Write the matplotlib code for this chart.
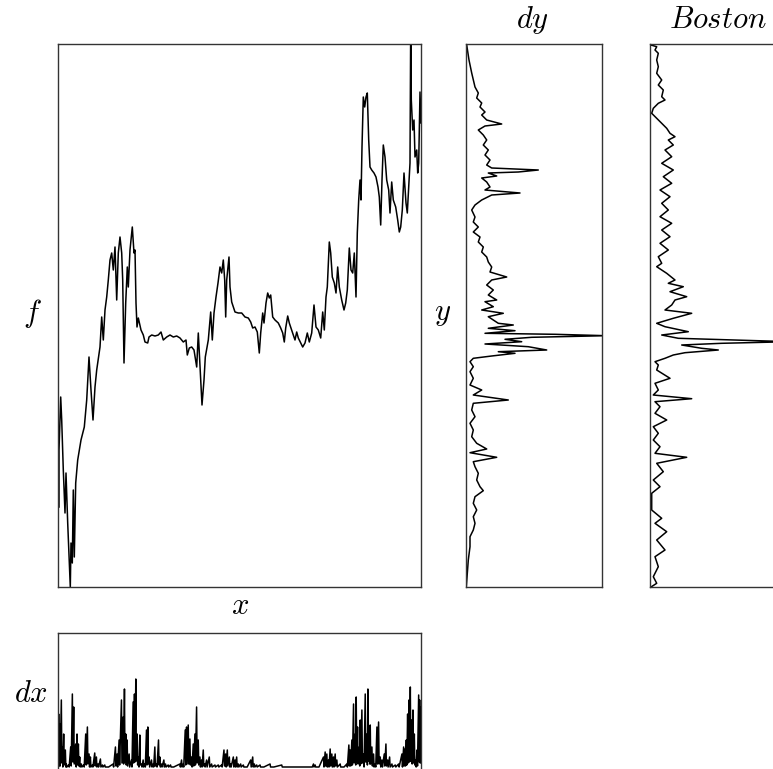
import numpy as np
import matplotlib.pyplot as plt

plt.rcParams['mathtext.fontset'] = 'cm'

# main series f(x)
x = [1, 1, 2.7, 3.7, 5.3, 7, 8, 9.7, 11.7, 12.3, 13, 14.3, 15.3, 16.3, 17.7, 19.7, 23, 26.3, 28.7, 31,
     33, 35, 37, 38.7, 42, 43.7, 45.3, 47, 48.7, 50.3, 52, 53.7, 55.3, 57, 58.7, 60.3, 62, 63.7, 64.7, 66,
     67.7, 69.3, 70.3, 72, 74.3, 76, 77, 78, 79, 80.3, 83, 85.3, 87, 89.7, 91, 93.7, 97, 100.3, 103, 105.3,
     108.7, 112, 115.3, 118.7, 122, 125.3, 128, 129.3, 131.3, 133.7, 136, 138.7, 140.3, 142, 144, 146, 147.3,
     150.3, 152.7, 154.3, 156, 158, 160, 162, 163.7, 165.3, 166.7, 167.7, 168.7, 171, 172, 173.7, 177, 180.3,
     183.7, 187, 190.3, 192.7, 194.7, 197, 199.3, 201.3, 202.7, 204.7, 206, 208, 209.7, 211.3, 212.7, 214.7,
     217, 220.3, 222.7, 224.7, 226.3, 227.7, 229.7, 231.3, 233.7, 235.3, 237, 238.7, 240.3, 242.7, 244.7, 247,
     249.3, 251.3, 253.7, 256, 258, 260.3, 262.7, 264.7, 266.3, 268, 269.3, 271.3, 272.7, 274.3, 276.3, 278,
     279.7, 281.3, 283.7, 286, 287.7, 289.3, 291.3, 293, 294.7, 296.3, 298, 299.3, 300.7, 302, 303, 304, 305.3,
     306.7, 308, 309.3, 310.7, 312, 313.7, 316, 318, 320, 321.3, 322.7, 324, 325.3, 327, 328.7, 330.7, 332,
     333.7, 335.3, 337.7, 339.7, 341.3, 342.7, 344.3, 346, 348, 349.3, 350.7, 352, 352.7, 353.3, 354.7, 356,
     357, 358.7, 359.7, 360.7, 362, 363]
f = [80, 137, 190, 167, 117, 74, 114, 64, 14, 0, 44, 24, 97, 30, 104, 127, 147, 160, 187, 230,
     197, 167, 200, 217, 240, 270, 247, 277, 290, 307, 327, 334, 317, 340, 287, 334, 350, 334, 307, 224,
     284, 320, 300, 337, 360, 334, 337, 284, 260, 269, 257, 252, 245, 244, 250, 252, 251, 252, 255, 247,
     250, 252, 250, 251, 249, 245, 247, 232, 239, 240, 237, 220, 254, 220, 182, 207, 230,
     247, 275, 247, 274, 290, 304, 320, 314, 327, 307, 270, 307, 330, 300, 285, 275, 274,
     274, 270, 269, 265, 259, 260, 255, 234, 254, 274, 264, 284, 294, 289, 292, 270,
     267, 264, 259, 254, 245, 259, 271, 264, 257, 252, 247, 255, 249, 244, 240, 244,
     254, 245, 254, 282, 260, 257, 249, 275, 257, 290, 300, 345, 334, 310, 304, 294,
     320, 300, 287, 277, 284, 297, 339, 317, 314, 334, 290, 354, 387, 407, 387, 440, 490,
     480, 490, 494, 447, 420, 417, 414, 410, 400, 390, 362, 407, 442, 430, 407, 397, 374,
     405, 387, 380, 367, 355, 360, 377, 414, 384, 374, 400, 424, 560, 487, 457, 467,
     430, 437, 414, 424, 495, 464]

# dx spikes
dx_pos = [175, 177, 180, 185, 188, 192, 197, 200, 207, 213, 218, 222, 228, 232, 236, 240, 245, 252, 258, 263,
          268, 272, 278, 285, 290, 295, 302, 308, 315, 325, 340, 347, 352, 358, 365, 370, 374, 378, 382, 388,
          395, 400, 404, 408, 412, 416, 420, 425, 430, 435, 440, 444, 448, 455, 460, 465, 470, 476, 480, 485,
          492, 497, 505, 512, 520, 540, 545, 550, 556, 560, 565, 570, 575, 580, 585, 590, 595, 600, 605, 610,
          614, 620, 628, 635, 645, 655, 665, 672, 677, 682, 688, 692, 700, 705, 710, 715, 722, 730, 740, 752,
          758, 763, 770, 780, 790, 810, 820, 845, 860, 900, 935, 940, 945, 955, 970, 975, 980, 985, 990, 995,
          1000, 1005, 1010, 1020, 1030, 1040, 1046, 1050, 1055, 1060, 1065, 1068, 1072, 1077, 1080, 1085, 1090,
          1095, 1100, 1103, 1107, 1110, 1115, 1120, 1125, 1130, 1135, 1140, 1145, 1152, 1157, 1162, 1168, 1175,
          1185, 1195, 1205, 1210, 1214, 1218, 1222, 1226, 1230, 1234, 1238, 1242, 1246, 1250, 1255, 1258, 1262]
dx_peak = [30, 53, 43, 67, 20, 33, 17, 3, 2, 20, 73, 60, 23, 33, 23, 10, 3, 2, 33, 40,
           13, 10, 2, 14, 10, 3, 8, 2, 2, 0, 3, 20, 13, 27, 67, 50, 78, 33, 27, 13,
           7, 65, 73, 88, 33, 10, 32, 3, 7, 3, 37, 40, 10, 7, 3, 20, 3, 27, 10, 3,
           7, 3, 2, 2, 0, 3, 7, 3, 37, 40, 42, 28, 10, 23, 33, 60, 27, 10, 7, 17,
           3, 7, 10, 3, 2, 2, 2, 17, 13, 17, 10, 3, 10, 7, 10, 3, 3, 2, 0, 7,
           10, 3, 2, 2, 0, 3, 0, 2, 0, 0, 0, 3, 2, 0, 10, 15, 13, 7, 18, 13,
           10, 13, 7, 3, 0, 3, 22, 17, 27, 63, 33, 70, 40, 20, 47, 57, 13,
           73, 33, 78, 40, 42, 20, 13, 3, 40, 45, 10, 7, 13, 23, 7, 10, 3,
           2, 3, 13, 20, 18, 27, 53, 67, 80, 47, 57, 33, 7, 17, 72, 67, 60]
dx_low = [0, 3, 1, 4, 0, 2, 0, 0, 0, 1, 5, 3, 0, 2, 1, 0, 0, 0, 2, 3,
          0, 0, 0, 1, 0, 0, 0, 0, 0, 0, 0, 1, 0, 2, 4, 3, 5, 2, 1, 0,
          0, 4, 5, 6, 2, 0, 2, 0, 0, 0, 2, 3, 0, 0, 0, 1, 0, 2, 0, 0,
          0, 0, 0, 0, 0, 0, 0, 0, 2, 3, 3, 2, 0, 1, 2, 4, 2, 0, 0, 1,
          0, 0, 0, 0, 0, 0, 0, 1, 0, 1, 0, 0, 0, 0, 0, 0, 0, 0, 0, 0,
          0, 0, 0, 0, 0, 0, 0, 0, 0, 0, 0, 0, 0, 0, 0, 1, 0, 0, 1, 0,
          0, 1, 0, 0, 0, 0, 1, 1, 2, 4, 2, 5, 3, 1, 3, 4, 0,
          5, 2, 6, 3, 3, 1, 0, 0, 3, 3, 0, 0, 1, 1, 0, 0, 0,
          0, 0, 0, 1, 1, 2, 4, 5, 6, 3, 4, 2, 0, 1, 5, 4, 4]

# dy profile
dy_y = [542, 527, 514, 500, 494, 489, 484, 480, 475, 472, 467, 463, 461, 457, 452, 447, 442, 437, 432, 427,
        422, 419, 417, 415, 414, 411, 409, 405, 400, 397, 394, 392, 387, 382, 377, 370, 365, 360, 355, 350,
        345, 340, 335, 330, 325, 320, 315, 310, 307, 302, 297, 292, 287, 285.3, 280.3, 277, 273.7, 270.3,
        263.7, 262, 258.7, 256.3, 253.7, 252.7, 251.3, 249.7, 247.7, 245.3, 243, 240.3, 237, 235.3, 233.7,
        231, 228.7, 225.3, 220.3, 215.3, 208.7, 202, 197, 192, 187, 183.7, 177, 170.3, 163.7, 157, 150.3,
        143.7, 138, 134.3, 129.7, 125.3, 120.3, 113.7, 107, 100.3, 96.3, 90.3, 83.7, 77, 70.3, 63.7, 57,
        50.3, 40.3, 27, 13.7, 0.3]
dy_val = [0.7, 3, 5.7, 9, 12.3, 10.7, 15.7, 14, 19, 15.7, 20.7, 35.7, 19, 12.3, 17.3, 20.7, 17.3, 22.3, 19, 24,
          20.7, 25.7, 72.3, 52.3, 22.3, 30.7, 15.7, 20.7, 24, 19, 54, 25.7, 15.7, 9, 5.7, 9, 7.3, 12.3, 7.3, 14,
          12.3, 17.3, 15.7, 20.7, 22.3, 25.7, 24, 40.7, 25.7, 20.7, 27.3, 22.3, 30.7, 19, 27.3, 15.7, 37.3, 22.3,
          32.3, 47.3, 22.3, 49, 19, 89, 140, 65.7, 39, 55.7, 19, 62.3, 80.7, 32.3, 49,
          25.7, 7.3, 4, 7.3, 4, 7.3, 4, 15.7, 7.3, 42.3, 7.3, 5.7, 9, 4, 7.3, 5.7,
          10.7, 20.7, 4, 30.7, 7.3, 9, 12.3, 10.7, 14, 17.3, 9, 7.3, 10.7, 7.3, 9, 7.3,
          4, 4, 2.3, 1.3, 0.3]

# Boston profile
boston_y = [542.7, 542, 540.3, 537, 533.7, 527, 520.3, 513.7, 507, 502, 497, 490.3, 487, 483.7, 478.7, 473.7,
            468.7, 463.7, 458.7, 453.7, 450.3, 447, 442, 437, 430.3, 423.7, 417, 410.3, 403.7, 397, 390.3,
            383.7, 377, 370.3, 363.7, 357, 350.3, 343.7, 337, 330.3, 323.7, 320.3, 313.7, 307, 303.7, 300.3,
            295.3, 290.3, 287, 282, 277, 273.7, 268.7, 263.7, 260.3, 255.3, 252, 248.7, 245.3, 243.7, 242,
            238.7, 237, 234.3, 232, 228.7, 225.3, 222, 217, 208.7, 203.7, 197, 192, 188.3, 185.3, 180.3,
            173.7, 167, 160.3, 153.7, 147, 140.3, 133.7, 129.7, 123.7, 115.3, 107, 100.3, 93.7, 87, 77, 68.7,
            63.7, 55.3, 47, 37, 30.3, 20.3, 10.3, 3.7, 0]
boston_val = [1.7, 1, 6.7, 5, 8.3, 6.7, 8.3, 6.7, 11.7, 8.3, 13.3, 11.7, 15, 8.3, 3.3, 1.7,
              6.7, 11.7, 16.7, 20, 25, 18.3, 23.3, 15, 21.7, 11.7, 23.3, 13.3, 21.7, 10, 20,
              11.7, 18.3, 10, 21.7, 11.7, 20, 10, 18.3, 8.3, 11.7, 6.7, 16.7, 25, 18.3, 33.3,
              20, 36.7, 25, 21.7, 15, 41.7, 23.3, 6.7, 15, 38.3, 11.7, 28.3, 140, 71.7, 31.7,
              51.7, 68.3, 35, 23.3, 15, 5, 8.3, 6.7, 20, 5, 8.3, 3.3, 41.7, 5, 10,
              5, 16.7, 3.3, 8.3, 3.3, 10, 5, 36.7, 6.7, 13.3, 3.3, 10, 1.7, 1.7, 1.7, 11.7,
              5, 16.7, 6.7, 15, 5, 8.3, 3.3, 6.7, 1]

W, H = 773, 769
fig = plt.figure(figsize=(W / 100, H / 100), dpi=100)

ax_main = fig.add_axes([58 / W, 1 - 587 / H, 363 / W, 543 / H])
ax_dx = fig.add_axes([58 / W, 1 - 780 / H, 363 / W, 147 / H])
ax_dy = fig.add_axes([466 / W, 1 - 587 / H, 136 / W, 543 / H])
ax_bos = fig.add_axes([650 / W, 1 - 587 / H, 136 / W, 543 / H])

ax_main.plot(x, f, color='black', lw=1.1)
ax_main.set_xlim(0, 363)
ax_main.set_ylim(0, 543)

# spikes: each peak followed by a low point
sx = np.repeat(dx_pos, 2).astype(float)
sx[1::2] += 1.5
sy = np.empty(len(sx))
sy[0::2] = dx_peak
sy[1::2] = dx_low
ax_dx.plot(sx, sy, color='black', lw=1.1)
ax_dx.set_xlim(175, 1262)
ax_dx.set_ylim(-13, 134)

ax_dy.plot(dy_val, dy_y, color='black', lw=1.1)
ax_dy.set_xlim(0, 136)
ax_dy.set_ylim(0, 543)

ax_bos.plot(boston_val, boston_y, color='black', lw=1.1)
ax_bos.set_xlim(0, 136)
ax_bos.set_ylim(0, 543)

for ax in [ax_main, ax_dx, ax_dy, ax_bos]:
    ax.set_xticks([])
    ax.set_yticks([])
    for s in ax.spines.values():
        s.set_color('#333333')
        s.set_linewidth(1)

fs = 22
fig.text(32 / W, 1 - 313 / H, '$f$', fontsize=fs, ha='center', va='center')
fig.text(240 / W, 1 - 606 / H, '$x$', fontsize=fs, ha='center', va='center')
fig.text(443 / W, 1 - 313 / H, '$y$', fontsize=fs, ha='center', va='center')
fig.text(31 / W, 1 - 693 / H, '$dx$', fontsize=fs, ha='center', va='center')
fig.text(532 / W, 1 - 20 / H, '$dy$', fontsize=fs, ha='center', va='center')
fig.text(718 / W, 1 - 20 / H, '$Boston$', fontsize=fs, ha='center', va='center')

fig.savefig('out.png', dpi=100)
